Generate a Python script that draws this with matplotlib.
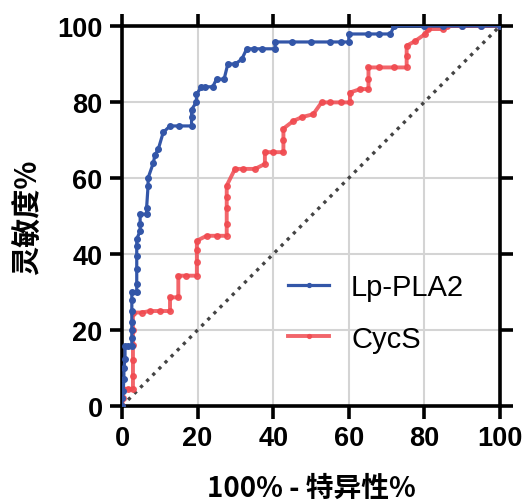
import matplotlib
matplotlib.use("Agg")
import matplotlib.pyplot as plt

# ROC points (x = 100% - specificity, y = sensitivity)
lp_fpr = [0, 0, 0.3, 0.5, 0.5, 0.8, 0.8, 1.6, 2.6, 2.6, 2.6, 2.6, 2.6, 2.6, 2.6,
          3.9, 3.9, 3.9, 3.9, 3.9, 3.9, 4.8, 4.8, 4.8, 6.5, 6.5, 6.9, 6.9, 8.3,
          8.7, 9.6, 10.9, 12.7, 15, 18.4, 18.4, 18.4, 19.7, 19.7, 21, 22, 24,
          25, 27, 28, 30, 31.7, 33, 35, 37, 40.5, 40.5, 45, 50, 55, 58, 60,
          60, 65, 68, 71, 72, 80, 85, 90, 95, 100]
lp_tpr = [0, 2, 4, 7, 10, 12.5, 15.8, 15.8, 15.8, 18, 20, 22, 25, 28, 30,
          30, 32, 36, 39.5, 42, 44, 46, 48, 50.5, 50.5, 52, 58, 60, 64,
          66, 67.6, 72, 73.7, 73.7, 73.7, 76, 78, 80, 82, 84, 84, 84,
          86, 86, 90, 90, 91.3, 94, 94, 94, 94, 95.8, 95.8, 95.8, 95.8, 95.8, 95.8,
          97.9, 97.9, 97.9, 97.9, 100, 100, 100, 100, 100, 100]

cy_fpr = [0, 0.3, 0.3, 1.5, 2.9, 2.9, 2.9, 2.9, 2.9, 2.9, 5.2, 7.4, 10, 12.7,
          12.7, 14.9, 14.9, 17, 19.8, 19.8, 19.8, 19.8, 22.4, 25, 27.7, 27.7,
          27.7, 27.7, 27.7, 29.9, 32, 35.2, 37.8, 37.8, 40, 42.7, 42.7, 42.7,
          45.3, 47.5, 50.6, 52.8, 55, 58, 60.3, 60.3, 63, 65.2, 65.2, 65.2, 68,
          72, 75.3, 75.3, 75.3, 77.5, 80.2, 81, 85, 86, 90, 95, 100]
cy_tpr = [0, 2, 4.5, 4.5, 4.5, 8, 12, 16, 20, 24.6, 24.6, 25, 25, 25,
          28.6, 28.6, 34.3, 34.3, 34.3, 38, 41, 43.5, 44.8, 44.8, 44.8, 48,
          52, 55, 58, 62.4, 62.4, 62.4, 63.7, 66.8, 66.8, 66.8, 70, 73,
          75, 76, 76.8, 79.9, 79.9, 79.9, 79.9, 82.5, 83.4, 83.4, 86, 89.1, 89.1,
          89.1, 89.1, 92, 94.8, 96, 97.9, 99.2, 99.2, 100, 100, 100, 100]

ticks = [0, 20, 40, 60, 80, 100]

plt.rcParams['font.family'] = ['Liberation Sans', 'Noto Sans CJK SC', 'DejaVu Sans']

fig = plt.figure(figsize=(5.27, 5.02), dpi=100)
ax = fig.add_axes([0.2315, 0.1892, 0.7173, 0.757])

ax.plot([0, 100], [0, 100], color='#444444', lw=2.4, linestyle=(0, (1, 1.6)), zorder=2)
ax.plot(cy_fpr, cy_tpr, color='#f04a50', lw=2.8, marker='o', ms=4,
        alpha=0.85, label='CycS', zorder=3)
ax.plot(lp_fpr, lp_tpr, color='#3356a8', lw=2.3, marker='o', ms=4,
        label='Lp-PLA2', zorder=4)

ax.set_xlim(0, 100)
ax.set_ylim(0, 100)
ax.set_xticks(ticks)
ax.set_yticks(ticks)
ax.grid(True, color='#d4d4d4', lw=1.5)
ax.set_axisbelow(True)

for s in ax.spines.values():
    s.set_linewidth(2.6)
    s.set_color('black')
ax.tick_params(which='both', direction='out', length=9, width=2.6,
               top=True, right=True, labeltop=False, labelright=False,
               labelsize=19.5, pad=5)
for lab in ax.get_xticklabels() + ax.get_yticklabels():
    lab.set_fontweight('bold')

ax.set_xlabel('100% - 特异性%', fontsize=20, fontweight='bold',
              family=['Noto Sans CJK SC', 'DejaVu Sans'], labelpad=16)
ax.set_ylabel('灵敏度%', fontsize=21, fontweight='bold',
              family=['Noto Sans CJK SC', 'DejaVu Sans'], labelpad=10)

handles, labels = ax.get_legend_handles_labels()
leg = ax.legend(handles[::-1], labels[::-1], loc='center left',
                bbox_to_anchor=(0.44, 0.245), frameon=False, fontsize=21,
                borderaxespad=0, borderpad=0,
                handlelength=1.4, handletextpad=0.75, labelspacing=0.8,
                markerscale=0.7)

fig.savefig('out.png', dpi=100)
